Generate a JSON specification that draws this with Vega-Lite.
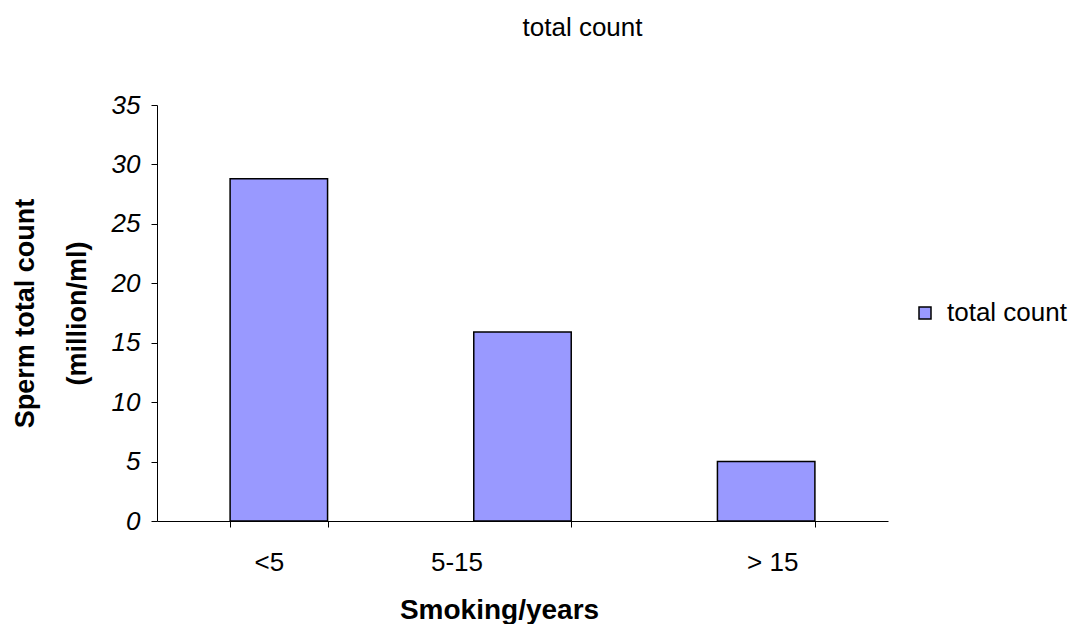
{
  "$schema": "https://vega.github.io/schema/vega-lite/v6.json",
  "width": 731,
  "height": 416,
  "autosize": "none",
  "padding": {"left": 157, "top": 105, "right": 183, "bottom": 103},
  "background": "white",
  "config": {
    "font": "Liberation Sans",
    "view": {"stroke": null}
  },
  "title": {
    "text": "total count",
    "font": "Liberation Sans",
    "fontSize": 26,
    "fontWeight": "normal",
    "color": "black",
    "anchor": "middle",
    "baseline": "alphabetic",
    "offset": 30,
    "dx": 60
  },
  "data": {
    "values": [
      {"years": "<5", "count": 28.8},
      {"years": "5-15", "count": 15.9},
      {"years": "> 15", "count": 5.0}
    ]
  },
  "mark": {"type": "bar", "stroke": "black", "strokeWidth": 1.5},
  "encoding": {
    "x": {
      "field": "years",
      "type": "nominal",
      "sort": null,
      "scale": {"paddingInner": 0.6, "paddingOuter": 0.3},
      "axis": {
        "title": "Smoking/years",
        "titleFont": "Liberation Sans",
        "titleFontSize": 28,
        "titleFontWeight": "bold",
        "titleColor": "black",
        "titleAlign": "center",
        "titleBaseline": "alphabetic",
        "titleX": 342,
        "titleY": 97,
        "labelAngle": 0,
        "labelFont": "Liberation Sans",
        "labelFontSize": 26,
        "labelColor": "black",
        "labelPadding": 22,
        "labelOffset": {
          "condition": [
            {"test": "datum.value === '<5'", "value": -10},
            {"test": "datum.value === '5-15'", "value": -66}
          ],
          "value": 6
        },
        "tickBand": "extent",
        "tickSize": 6,
        "tickColor": "black",
        "domainColor": "black",
        "domainWidth": 1,
        "grid": false
      }
    },
    "y": {
      "field": "count",
      "type": "quantitative",
      "scale": {"domain": [0, 35], "nice": false},
      "axis": {
        "values": [0, 5, 10, 15, 20, 25, 30, 35],
        "title": ["Sperm total count", "(million/ml)"],
        "titleFont": "Liberation Sans",
        "titleFontSize": 27,
        "titleFontWeight": "bold",
        "titleColor": "black",
        "titleAngle": -90,
        "titleAlign": "center",
        "titleBaseline": "alphabetic",
        "titleLineHeight": 52,
        "titleX": -124,
        "titleY": 208,
        "labelFont": "Liberation Sans",
        "labelFontSize": 26,
        "labelFontStyle": "italic",
        "labelColor": "black",
        "labelPadding": 11,
        "tickSize": 6,
        "tickColor": "black",
        "domainColor": "black",
        "grid": false
      }
    },
    "color": {
      "datum": "total count",
      "type": "nominal",
      "scale": {"range": ["#9999FF"]},
      "legend": {
        "title": null,
        "orient": "none",
        "legendX": 755,
        "legendY": 195,
        "symbolType": "square",
        "symbolSize": 144,
        "symbolStrokeColor": "black",
        "symbolStrokeWidth": 1.5,
        "labelFont": "Liberation Sans",
        "labelFontSize": 26,
        "labelColor": "black",
        "labelOffset": 9,
        "labelLimit": 0
      }
    }
  }
}
